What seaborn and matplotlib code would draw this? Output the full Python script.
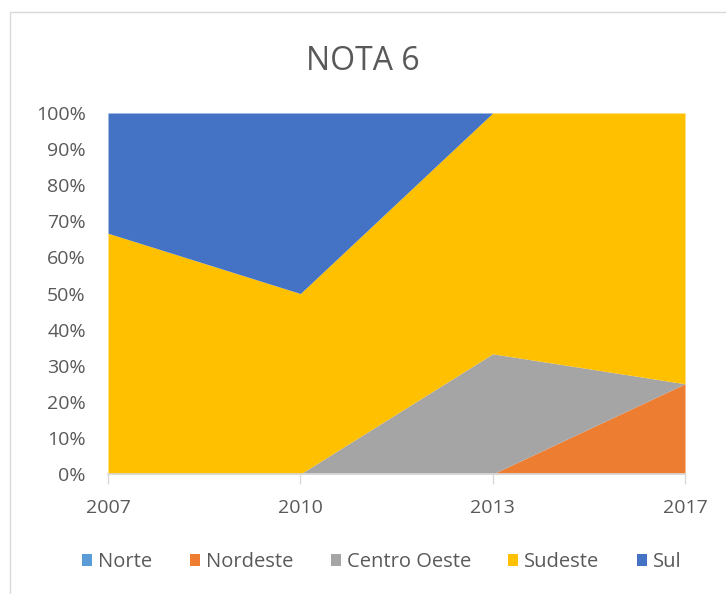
import matplotlib
matplotlib.use("Agg")
import matplotlib.pyplot as plt
import seaborn as sns
import numpy as np
from matplotlib.patches import Rectangle
from matplotlib.ticker import PercentFormatter

years = ["2007", "2010", "2013", "2017"]
norte = [0.0, 0.0, 0.0, 0.0]
nordeste = [0.0, 0.0, 0.0, 25.0]
centro_oeste = [0.0, 0.0, 33.3, 0.0]
sudeste = [66.7, 50.0, 66.7, 75.0]
sul = [33.3, 50.0, 0.0, 0.0]
series_names = ["Norte", "Nordeste", "Centro Oeste", "Sudeste", "Sul"]
colors = ["#5B9BD5", "#ED7D31", "#A5A5A5", "#FFC000", "#4472C4"]

sns.set_theme(style="white")
plt.rcParams["font.family"] = ["Open Sans", "DejaVu Sans"]

fig = plt.figure(figsize=(7.26, 5.94), dpi=100)
ax = fig.add_axes([108/726, 1-474/594, (685-108)/726, (474-113)/594])

x = np.arange(len(years))
ax.stackplot(x, norte, nordeste, centro_oeste, sudeste, sul,
             colors=colors, labels=series_names, linewidth=0)

ax.set_xlim(0, len(years)-1)
ax.set_ylim(0, 100)
ax.set_xticks(x)
ax.set_xticklabels(years)
ax.set_yticks(np.arange(0, 101, 10))
ax.yaxis.set_major_formatter(PercentFormatter(decimals=0))
for s in ["top", "right", "left"]:
    ax.spines[s].set_visible(False)
ax.spines["bottom"].set_color("#D9D9D9")
ax.tick_params(axis="y", length=0, labelsize=14, labelcolor="#595959", pad=16)
ax.tick_params(axis="x", length=7, width=1, color="#D9D9D9", direction="out",
               labelsize=14, labelcolor="#595959", pad=11, bottom=True)

fig.text(0.5, 1-61/594, "NOTA 6", ha="center", va="center", fontsize=23, color="#595959")

leg = fig.legend(*ax.get_legend_handles_labels(), loc="center", bbox_to_anchor=(0.526, 1-562/594),
                 ncol=5, frameon=False, fontsize=14.5, handlelength=0.5, handleheight=0.5,
                 handletextpad=0.3, columnspacing=1.85, labelcolor="#595959")

fig.patches.append(Rectangle((10/726, -0.05), 1.0, 1-12/594+0.05, transform=fig.transFigure,
                             fill=False, edgecolor="#D9D9D9", linewidth=1))

fig.savefig("out.png", dpi=100)
